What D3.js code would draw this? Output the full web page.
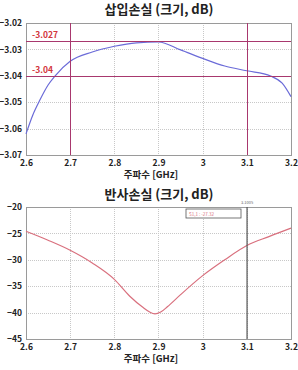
<!DOCTYPE html>
<html><head><meta charset="utf-8">
<script src="https://cdn.jsdelivr.net/npm/d3@7/dist/d3.min.js"></script>
<style>
html,body{margin:0;padding:0;background:#fff;}
text{font-family:"Noto Sans CJK KR","Noto Sans",sans-serif;}
</style></head>
<body><svg id="c" width="298" height="370"></svg>
<script>
// Data
const insFreq = [2.6, 2.615, 2.632, 2.65, 2.666, 2.7, 2.75, 2.8, 2.85, 2.9, 2.95, 3.0, 3.05, 3.1, 3.154, 3.18, 3.2];
const insLoss = [-3.062, -3.055, -3.049, -3.0435, -3.040, -3.0345, -3.031, -3.0288, -3.0275, -3.0272, -3.0302, -3.0334, -3.0363, -3.0381, -3.0401, -3.0428, -3.0479];
const retFreq = [2.6, 2.65, 2.7, 2.75, 2.8, 2.835, 2.866, 2.88, 2.892, 2.905, 2.92, 2.95, 3.0, 3.05, 3.1, 3.15, 3.2];
const retLoss = [-24.6, -26.3, -28.2, -30.6, -33.7, -36.9, -39.1, -39.9, -40.25, -39.9, -38.9, -36.6, -33.0, -30.0, -27.3, -25.6, -24.0];
const xTicks = [2.6, 2.7, 2.8, 2.9, 3.0, 3.1, 3.2];
const xTickLabels = ["2.6", "2.7", "2.8", "2.9", "3", "3.1", "3.2"];
const insTicks = [-3.02, -3.03, -3.04, -3.05, -3.06, -3.07];
const retTicks = [-20, -25, -30, -35, -40, -45];
const insMarkersX = [2.7, 3.1];
const insMarkersY = [-3.027, -3.04];
const insMarkerLabels = ["-3.027", "-3.04"];
const retMarkerX = [3.1005];
const retMarkerLabel = "3.1005";
const retLegend = "S1,1 : -27.32";
const titles = ["삽입손실 (크기, dB)", "반사손실 (크기, dB)"];
const xTitle = "주파수 [GHz]";

const svg = d3.select("#c");
const L = 26, R = 291;

function panel(idx, top, bottom, yDomain, yTicks, fmt, freq, vals, color, titleY) {
  const g = svg.append("g");
  const x = d3.scaleLinear().domain([2.6, 3.2]).range([L, R]);
  const y = d3.scaleLinear().domain(yDomain).range([bottom, top]);
  g.selectAll("line.gx").data(xTicks).join("line").attr("class", "gx")
    .attr("x1", d => Math.round(x(d)) + 0.5).attr("x2", d => Math.round(x(d)) + 0.5).attr("y1", top).attr("y2", bottom)
    .attr("stroke", "#c8c8c8").attr("stroke-dasharray", "1,1").attr("stroke-width", 1);
  g.selectAll("line.gy").data(yTicks).join("line").attr("class", "gy")
    .attr("x1", L).attr("x2", R).attr("y1", d => Math.round(y(d)) + 0.5).attr("y2", d => Math.round(y(d)) + 0.5)
    .attr("stroke", "#c8c8c8").attr("stroke-dasharray", "1,1").attr("stroke-width", 1);
  g.append("rect").attr("x", L + 0.5).attr("y", top + 0.5).attr("width", R - L).attr("height", bottom - top)
    .attr("fill", "none").attr("stroke", "#9a9a9a").attr("stroke-width", 1);
  const ax = d3.axisBottom(x).tickValues(xTicks).tickFormat((d, i) => xTickLabels[i]).tickSize(0).tickPadding(5);
  const axg = g.append("g").attr("transform", `translate(0,${bottom})`).call(ax);
  axg.select(".domain").remove();
  axg.selectAll("text").attr("font-size", 8.5).attr("fill", "#222").attr("font-weight", 600);
  const ay = d3.axisLeft(y).tickValues(yTicks).tickFormat(fmt).tickSize(0).tickPadding(4);
  const ayg = g.append("g").attr("transform", `translate(${L},0)`).call(ay);
  ayg.select(".domain").remove();
  ayg.selectAll("text").attr("font-size", 8.5).attr("fill", "#222").attr("font-weight", 600);
  g.append("text").attr("x", 159).attr("y", titleY).attr("text-anchor", "middle")
    .attr("font-size", 13).attr("font-weight", 700).attr("fill", "#222").text(titles[idx]);
  g.append("text").attr("x", 151).attr("y", bottom + 23).attr("text-anchor", "middle")
    .attr("font-size", 9.5).attr("font-weight", 600).attr("fill", "#222").text(xTitle);
  const line = d3.line().x((d, i) => x(freq[i])).y(d => y(d)).curve(d3.curveMonotoneX);
  g.append("path").datum(vals).attr("d", line).attr("fill", "none").attr("stroke", color).attr("stroke-width", 1.2);
  return {g, x, y};
}

const p1 = panel(0, 23, 155, [-3.07, -3.02], insTicks, d3.format(".2f"), insFreq, insLoss, "#6b6bd8", 14);
p1.g.selectAll("line.mx").data(insMarkersX).join("line").attr("class", "mx")
  .attr("x1", d => Math.round(p1.x(d)) + 0.5).attr("x2", d => Math.round(p1.x(d)) + 0.5).attr("y1", 23).attr("y2", 155)
  .attr("stroke", "#a8386e").attr("stroke-width", 1);
p1.g.selectAll("line.my").data(insMarkersY).join("line").attr("class", "my")
  .attr("x1", L).attr("x2", R).attr("y1", d => Math.round(p1.y(d)) + 0.5).attr("y2", d => Math.round(p1.y(d)) + 0.5)
  .attr("stroke", "#a8386e").attr("stroke-width", 1);
p1.g.selectAll("text.ml").data(insMarkersY).join("text").attr("class", "ml")
  .attr("x", 32).attr("y", d => p1.y(d) - 3).attr("font-size", 8.5).attr("font-weight", 600)
  .attr("fill", "#d2363c").text((d, i) => insMarkerLabels[i]);

const p2 = panel(1, 207, 339, [-45, -20], retTicks, d3.format("d"), retFreq, retLoss, "#d9707e", 199);
p2.g.selectAll("line.mx").data(retMarkerX).join("line").attr("class", "mx")
  .attr("x1", d => p2.x(d)).attr("x2", d => p2.x(d)).attr("y1", 207).attr("y2", 339)
  .attr("stroke", "#555").attr("stroke-width", 1.2);
p2.g.append("text").attr("x", p2.x(retMarkerX[0])).attr("y", 204).attr("text-anchor", "middle")
  .attr("font-size", 4).attr("fill", "#666").text(retMarkerLabel);
p2.g.append("rect").attr("x", 186).attr("y", 209).attr("width", 55).attr("height", 9)
  .attr("fill", "#fff").attr("stroke", "#555").attr("stroke-width", 0.8);
p2.g.append("text").attr("x", 189).attr("y", 215.5).attr("font-size", 4.5).attr("fill", "#d9707e").text(retLegend);
</script></body></html>
